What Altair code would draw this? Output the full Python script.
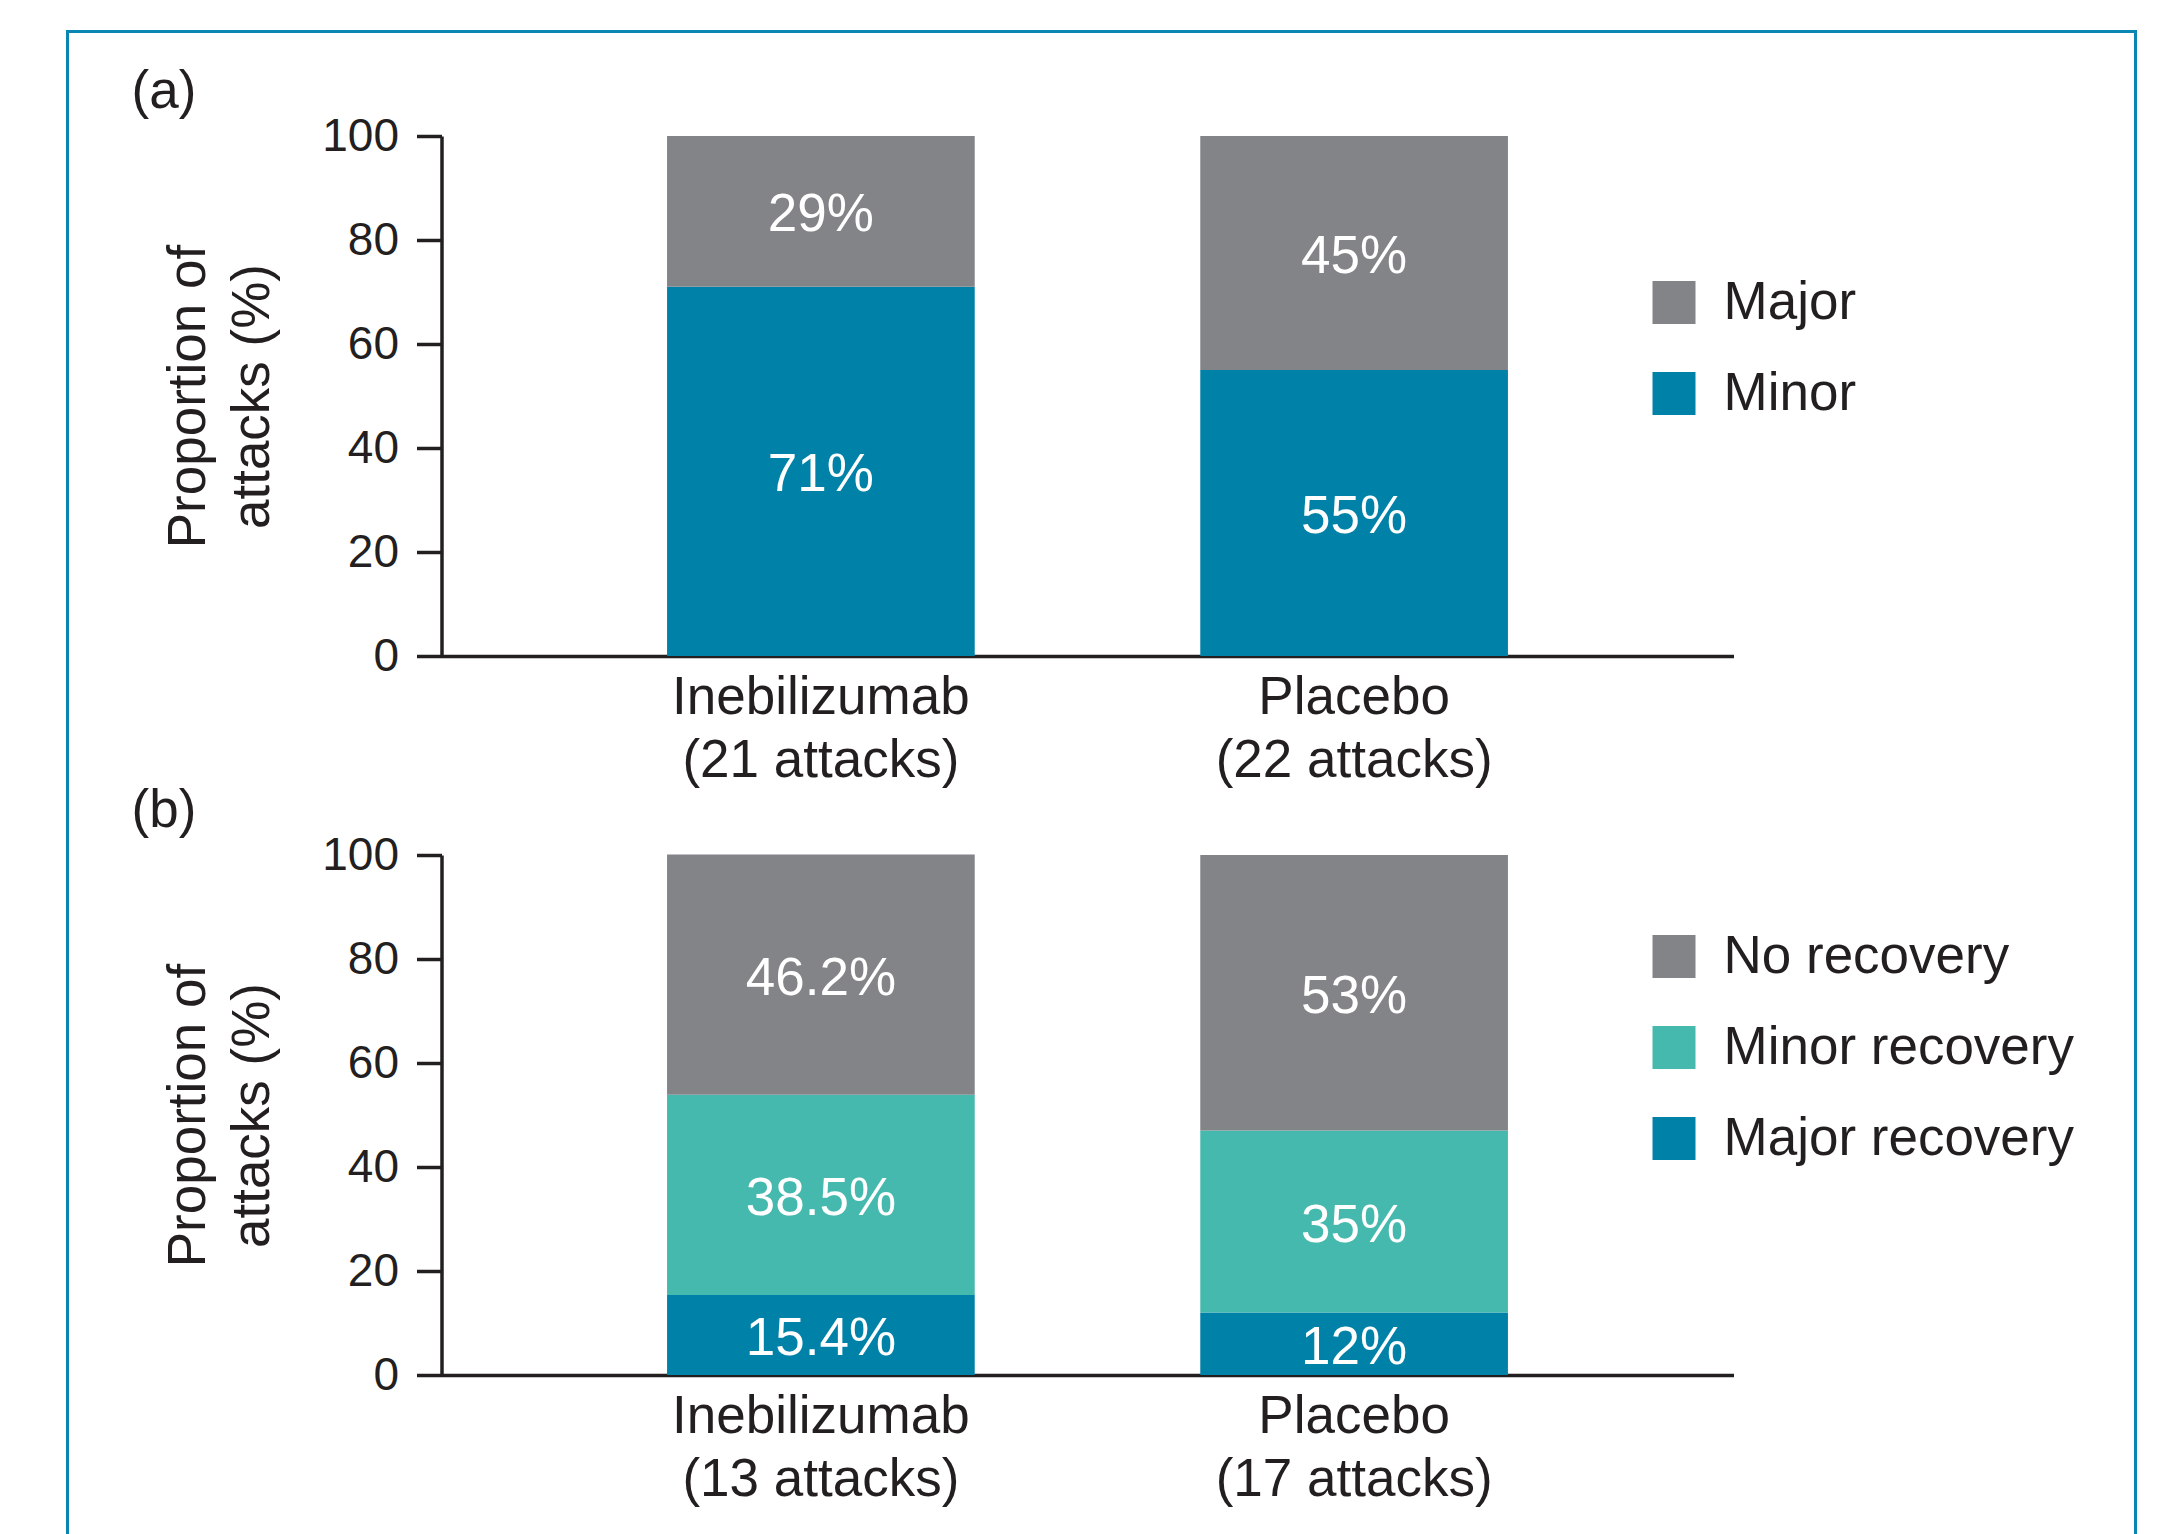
import altair as alt
import pandas as pd

# ---------------- data ----------------
cats_a = ["Inebilizumab\n(21 attacks)", "Placebo\n(22 attacks)"]
series_a = ["Minor", "Major"]            # stack order, bottom -> top
minor_a = [71, 55]
major_a = [29, 45]

cats_b = ["Inebilizumab\n(13 attacks)", "Placebo\n(17 attacks)"]
series_b = ["Major recovery", "Minor recovery", "No recovery"]  # bottom -> top
major_rec_b = [15.4, 12]
minor_rec_b = [38.5, 35]
no_rec_b = [46.2, 53]

panel_tags = ["(a)", "(b)"]
y_ticks = [0, 20, 40, 60, 80, 100]
y_title = ["Proportion of", "attacks (%)"]

GRAY = "#838488"
BLUE = "#0082a8"
TEAL = "#46b9af"
FRAME = "#0a86b2"
INK = "#231f20"
FONT = "Liberation Sans"


def long_table(cats, series, columns):
    rows = []
    for si, (s, vals) in enumerate(zip(series, columns)):
        for c, v in zip(cats, vals):
            rows.append({"group": c, "series": s, "value": v, "order": si})
    return pd.DataFrame(rows)


df_a = long_table(cats_a, series_a, [minor_a, major_a])
df_b = long_table(cats_b, series_b, [major_rec_b, minor_rec_b, no_rec_b])


def y_axis():
    return alt.Axis(
        values=y_ticks, title=y_title,
        labelFontSize=46, labelColor=INK, labelPadding=18,
        tickSize=25, tickWidth=3.5, tickColor=INK,
        domainColor=INK, domainWidth=3.5,
        titleFontSize=53, titleFontWeight="normal", titleColor=INK,
        titleLineHeight=64, titlePadding=42, grid=False,
    )


def x_axis():
    return alt.Axis(
        title=None, labelAngle=0, ticks=False,
        labelExpr="split(datum.label, '\\n')",
        labelFontSize=53, labelLineHeight=63, labelPadding=15,
        labelColor=INK, domainColor=INK, domainWidth=3.5,
        labelBaseline="top", labelLimit=2000,
    )


def panel(df, cats, series, colors, tag, legend_y, frame=False):
    legend_order = list(reversed(series))
    color_range = list(reversed(colors))
    xscale = alt.Scale(paddingInner=0.423, paddingOuter=0.423)
    yscale = alt.Scale(domain=[0, 100], nice=False)
    base = alt.Chart(df)
    bars = base.mark_bar().encode(
        x=alt.X("group:N", sort=cats, scale=xscale, axis=x_axis()),
        y=alt.Y("value:Q", stack="zero", scale=yscale, axis=y_axis()),
        color=alt.Color(
            "series:N",
            scale=alt.Scale(domain=legend_order, range=color_range),
            legend=alt.Legend(
                title=None, orient="none", legendX=1206, legendY=legend_y,
                symbolType="square", symbolSize=1849, symbolStrokeWidth=0,
                symbolOpacity=1, labelFontSize=53, labelColor=INK,
                labelOffset=23, rowPadding=37, padding=0, labelLimit=2000,
            ),
        ),
        order=alt.Order("order:Q"),
    )
    text = base.transform_stack(
        stack="value", groupby=["group"], as_=["v0", "v1"],
        sort=[alt.SortField("order")],
    ).transform_calculate(
        mid="(datum.v0 + datum.v1) / 2", lab="datum.value + '%'"
    ).mark_text(
        color="white", fontSize=53, baseline="middle", align="center", dy=4
    ).encode(
        x=alt.X("group:N", sort=cats, scale=xscale, axis=x_axis()),
        y=alt.Y("mid:Q", scale=yscale, axis=y_axis()),
        text="lab:N",
    )
    tag_layer = alt.Chart(pd.DataFrame({"tag": [tag]})).mark_text(
        fontSize=53, color=INK, align="left", baseline="alphabetic"
    ).encode(x=alt.value(-310), y=alt.value(-28), text="tag:N")
    layers = [bars, text, tag_layer]
    if frame:
        fr = alt.Chart(pd.DataFrame({"k": [0]}))
        layers += [
            fr.mark_rule(color=FRAME, strokeWidth=3).encode(
                x=alt.value(-374), y=alt.value(-106), y2=alt.value(1440)),
            fr.mark_rule(color=FRAME, strokeWidth=3).encode(
                x=alt.value(1694), y=alt.value(-106), y2=alt.value(1440)),
            fr.mark_rule(color=FRAME, strokeWidth=3).encode(
                x=alt.value(-375.5), x2=alt.value(1695.5), y=alt.value(-104.5)),
        ]
    return alt.layer(*layers).properties(width=1292, height=520)


pa = panel(df_a, cats_a, series_a, [BLUE, GRAY], panel_tags[0], 140, frame=True)
pb = panel(df_b, cats_b, series_b, [BLUE, TEAL, GRAY], panel_tags[1], 75)

chart = alt.vconcat(pa, pb, spacing=199, bounds="flush").resolve_scale(
    color="independent", x="independent", y="independent"
).properties(
    padding={"left": 64.5, "top": 28, "right": 0, "bottom": 0},
    background="white",
).configure(font=FONT).configure_view(stroke=None)

chart.save("out.html", embed_options={"renderer": "svg", "actions": False})
